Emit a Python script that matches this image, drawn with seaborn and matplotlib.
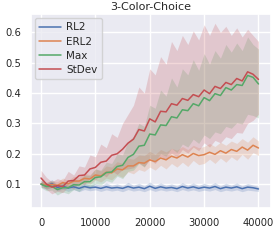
import matplotlib
matplotlib.use('Agg')
import matplotlib.pyplot as plt
import seaborn as sns
import pandas as pd

# 학습 스텝 (1000 간격)
steps = list(range(0, 41000, 1000))

rl2_mean = [0.100, 0.094, 0.102, 0.089, 0.093, 0.087, 0.091, 0.086, 0.092, 0.088, 0.090,
            0.086, 0.091, 0.087, 0.089, 0.086, 0.092, 0.087, 0.090, 0.085, 0.093, 0.086,
            0.091, 0.087, 0.089, 0.085, 0.092, 0.087, 0.091, 0.086, 0.090, 0.087, 0.092,
            0.085, 0.090, 0.087, 0.091, 0.085, 0.090, 0.088, 0.084]
rl2_lo = [0.090, 0.083, 0.090, 0.078, 0.083, 0.076, 0.082, 0.075, 0.082, 0.078, 0.081,
          0.076, 0.081, 0.077, 0.080, 0.075, 0.082, 0.077, 0.080, 0.075, 0.082, 0.076,
          0.081, 0.077, 0.080, 0.075, 0.082, 0.077, 0.081, 0.076, 0.080, 0.077, 0.082,
          0.075, 0.080, 0.077, 0.081, 0.075, 0.080, 0.078, 0.076]
rl2_hi = [0.112, 0.104, 0.115, 0.098, 0.106, 0.095, 0.103, 0.094, 0.104, 0.097, 0.102,
          0.095, 0.104, 0.096, 0.101, 0.094, 0.106, 0.096, 0.103, 0.094, 0.107, 0.095,
          0.104, 0.096, 0.101, 0.094, 0.105, 0.096, 0.104, 0.095, 0.103, 0.096, 0.105,
          0.094, 0.103, 0.096, 0.104, 0.094, 0.102, 0.097, 0.093]

erl2_mean = [0.100, 0.097, 0.099, 0.096, 0.105, 0.101, 0.110, 0.110, 0.119, 0.117, 0.130,
             0.127, 0.139, 0.137, 0.150, 0.147, 0.160, 0.160, 0.171, 0.169, 0.180, 0.174,
             0.186, 0.180, 0.192, 0.186, 0.197, 0.189, 0.201, 0.194, 0.197, 0.205, 0.198,
             0.210, 0.202, 0.214, 0.208, 0.222, 0.212, 0.228, 0.219]
erl2_lo = [0.090, 0.086, 0.088, 0.084, 0.093, 0.087, 0.098, 0.094, 0.104, 0.100, 0.114,
           0.107, 0.120, 0.114, 0.130, 0.122, 0.140, 0.134, 0.148, 0.142, 0.156, 0.146,
           0.162, 0.150, 0.168, 0.156, 0.172, 0.158, 0.178, 0.164, 0.168, 0.182, 0.168,
           0.186, 0.172, 0.190, 0.178, 0.198, 0.182, 0.204, 0.194]
erl2_hi = [0.110, 0.107, 0.112, 0.108, 0.120, 0.112, 0.126, 0.123, 0.136, 0.131, 0.150,
           0.143, 0.160, 0.156, 0.174, 0.168, 0.185, 0.182, 0.196, 0.194, 0.208, 0.198,
           0.214, 0.206, 0.218, 0.212, 0.224, 0.214, 0.228, 0.220, 0.224, 0.234, 0.224,
           0.238, 0.228, 0.242, 0.234, 0.250, 0.238, 0.256, 0.242]

max_mean = [0.100, 0.092, 0.093, 0.082, 0.088, 0.088, 0.098, 0.097, 0.108, 0.108, 0.122,
            0.124, 0.138, 0.140, 0.158, 0.162, 0.188, 0.198, 0.225, 0.228, 0.265, 0.262,
            0.295, 0.293, 0.322, 0.318, 0.345, 0.342, 0.365, 0.358, 0.385, 0.375, 0.398,
            0.392, 0.418, 0.410, 0.428, 0.425, 0.458, 0.452, 0.430]
max_lo = [0.088, 0.078, 0.080, 0.064, 0.074, 0.068, 0.082, 0.076, 0.090, 0.084, 0.102,
          0.096, 0.112, 0.106, 0.126, 0.118, 0.142, 0.146, 0.168, 0.156, 0.186, 0.176,
          0.200, 0.192, 0.218, 0.204, 0.232, 0.222, 0.248, 0.234, 0.262, 0.250, 0.272,
          0.266, 0.290, 0.284, 0.302, 0.298, 0.330, 0.326, 0.318]
max_hi = [0.112, 0.104, 0.110, 0.096, 0.106, 0.102, 0.118, 0.114, 0.130, 0.128, 0.150,
          0.146, 0.172, 0.168, 0.200, 0.196, 0.240, 0.258, 0.300, 0.290, 0.360, 0.350,
          0.410, 0.390, 0.450, 0.420, 0.480, 0.460, 0.510, 0.475, 0.530, 0.495, 0.540,
          0.515, 0.560, 0.535, 0.565, 0.540, 0.585, 0.560, 0.545]

stdev_mean = [0.120, 0.100, 0.090, 0.095, 0.092, 0.110, 0.112, 0.128, 0.130, 0.150, 0.155,
              0.172, 0.176, 0.195, 0.200, 0.215, 0.235, 0.248, 0.280, 0.275, 0.315, 0.305,
              0.340, 0.338, 0.365, 0.360, 0.382, 0.376, 0.395, 0.388, 0.410, 0.398, 0.422,
              0.415, 0.435, 0.428, 0.448, 0.440, 0.470, 0.462, 0.445]
stdev_lo = [0.098, 0.082, 0.068, 0.076, 0.072, 0.092, 0.084, 0.104, 0.098, 0.120, 0.114,
            0.134, 0.124, 0.144, 0.132, 0.148, 0.150, 0.154, 0.170, 0.158, 0.180, 0.168,
            0.192, 0.180, 0.202, 0.190, 0.214, 0.202, 0.222, 0.210, 0.236, 0.222, 0.244,
            0.236, 0.256, 0.250, 0.270, 0.268, 0.300, 0.310, 0.330]
stdev_hi = [0.145, 0.122, 0.108, 0.118, 0.112, 0.142, 0.130, 0.160, 0.156, 0.196, 0.190,
            0.232, 0.220, 0.266, 0.254, 0.300, 0.330, 0.360, 0.420, 0.400, 0.480, 0.460,
            0.520, 0.495, 0.570, 0.540, 0.590, 0.560, 0.605, 0.575, 0.625, 0.590, 0.630,
            0.600, 0.620, 0.590, 0.615, 0.585, 0.610, 0.590, 0.570]

names = ['RL2', 'ERL2', 'Max', 'StDev']
means = [rl2_mean, erl2_mean, max_mean, stdev_mean]
lows = [rl2_lo, erl2_lo, max_lo, stdev_lo]
highs = [rl2_hi, erl2_hi, max_hi, stdev_hi]

sns.set_theme(style='darkgrid')
colors = sns.color_palette('deep', 4)

rows = []
for name, m in zip(names, means):
    for s, v in zip(steps, m):
        rows.append({'step': s, 'value': v, 'method': name})
df = pd.DataFrame(rows)

fig = plt.figure(figsize=(2.74, 2.4), dpi=100)
ax = fig.add_axes([0.113, 0.133, 0.876, 0.808])

for c, lo, hi in zip(colors, lows, highs):
    ax.fill_between(steps, lo, hi, color=c, alpha=0.22, linewidth=0)

sns.lineplot(data=df, x='step', y='value', hue='method', palette=colors,
             linewidth=1.1, ax=ax)

ax.set_xlabel('')
ax.set_ylabel('')
ax.set_title('3-Color-Choice', fontsize=8, pad=3)
ax.tick_params(labelsize=7.2, pad=1)
ax.set_xticks([0, 10000, 20000, 30000, 40000])
ax.set_yticks([0.1, 0.2, 0.3, 0.4, 0.5, 0.6])
ax.set_xlim(-1850, 42300)
ax.set_ylim(0.021, 0.66)
ax.legend(title=None, loc='upper left', fontsize=7.5, handlelength=2.1,
          handletextpad=0.5, borderpad=0.4, labelspacing=0.4, borderaxespad=0.4)

fig.savefig('out.png', dpi=100)
